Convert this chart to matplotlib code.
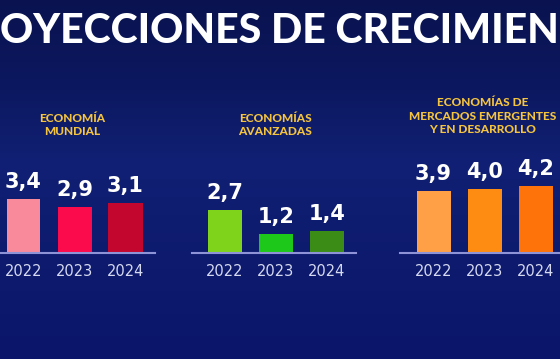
import matplotlib
matplotlib.use("Agg")
import matplotlib.pyplot as plt
import numpy as np
from matplotlib.colors import LinearSegmentedColormap

# Data
years = ["2022", "2023", "2024"]
mundial = [3.4, 2.9, 3.1]
avanzadas = [2.7, 1.2, 1.4]
emergentes = [3.9, 4.0, 4.2]

titles = ["ECONOMÍA\nMUNDIAL", "ECONOMÍAS\nAVANZADAS",
          "ECONOMÍAS DE\nMERCADOS EMERGENTES\nY EN DESARROLLO"]
colors_mundial = ["#f98a9b", "#fb0a4c", "#c3062e"]
colors_avanzadas = ["#7fd41b", "#1ec81a", "#3a8c17"]
colors_emergentes = ["#ffa046", "#ff8c12", "#ff740a"]

W, H = 560, 359
fig = plt.figure(figsize=(W / 100, H / 100), dpi=100)

# Background gradient
bg = fig.add_axes([0, 0, 1, 1])
cmap = LinearSegmentedColormap.from_list(
    "bg", [(0, "#0a1350"), (0.25, "#0c1860"), (0.45, "#112074"), (0.75, "#0d1a6e"), (1, "#0b166a")])
grad = np.linspace(0, 1, 256).reshape(-1, 1)
bg.imshow(grad, aspect="auto", cmap=cmap, extent=[0, 1, 0, 1], origin="upper")
bg.set_axis_off()

fig.text(0.0, 1 - 31 / H, "OYECCIONES DE CRECIMIEN", color="white", fontsize=29.5,
         fontweight="black", family="Lato", ha="left", va="center")

base_y = 253     # baseline in pixels from top
px_unit = 16     # pixels per unit
spacing = 51     # bar spacing in pixels
panels = [
    (mundial, colors_mundial, 23.5, 0, 155, 72, 125),
    (avanzadas, colors_avanzadas, 225, 192, 356, 275, 125),
    (emergentes, colors_emergentes, 433.5, 400, 560, 483, 116),
]

for (vals, cols, c0, x0, x1, tx, ty), title in zip(panels, titles):
    top = 140
    ax = fig.add_axes([x0 / W, 1 - base_y / H, (x1 - x0) / W, (base_y - top) / H])
    ax.set_facecolor("none")
    x = np.arange(len(vals))
    bars = ax.bar(x, vals, width=34 / spacing, color=cols)
    ax.set_xlim((x0 - c0) / spacing, (x1 - c0) / spacing)
    ax.set_ylim(0, (base_y - top) / px_unit)
    ax.bar_label(bars, labels=[f"{v:.1f}".replace(".", ",") for v in vals], padding=5,
                 color="white", fontsize=15, fontweight="bold")
    for s in ["top", "right", "left"]:
        ax.spines[s].set_visible(False)
    ax.spines["bottom"].set_color("#8d93d6")
    ax.spines["bottom"].set_linewidth(1.5)
    ax.set_yticks([])
    ax.set_xticks(x)
    ax.set_xticklabels(years, color="#d6daf0", fontsize=10.5, family="Liberation Sans Narrow")
    ax.tick_params(axis="x", length=0, pad=8)
    fig.text(tx / W, 1 - ty / H, title, color="#f4c43f", fontsize=8.6, fontweight="black",
             family="Lato", ha="center", va="center", linespacing=1.3)

fig.savefig("out.png", dpi=100)
